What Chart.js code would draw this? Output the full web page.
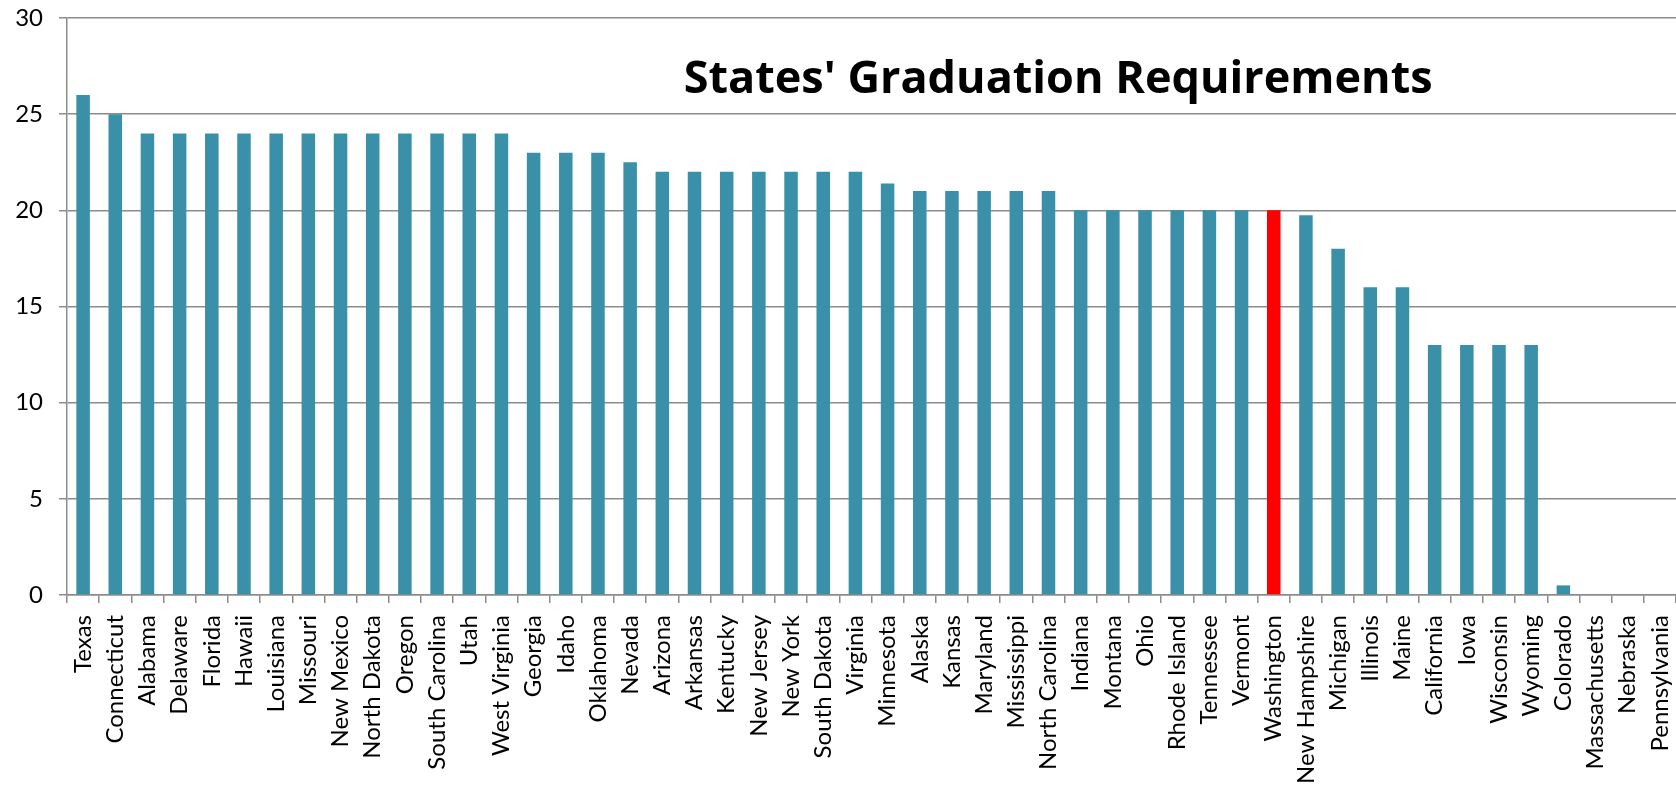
<!DOCTYPE html>
<html lang="en">
<head>
  <meta charset="UTF-8">
  <title>States' Graduation Requirements</title>
  <script src="https://cdn.jsdelivr.net/npm/chart.js"></script>
  <style>
    html, body { margin: 0; padding: 0; background: #fff; }
    #wrap { width: 1676px; height: 793px; }
  </style>
</head>
<body>
  <div id="wrap"><canvas id="gradChart"></canvas></div>

  <script>
    const states = [
      'Texas', 'Connecticut', 'Alabama', 'Delaware', 'Florida', 'Hawaii', 'Louisiana',
      'Missouri', 'New Mexico', 'North Dakota', 'Oregon', 'South Carolina', 'Utah',
      'West Virginia', 'Georgia', 'Idaho', 'Oklahoma', 'Nevada', 'Arizona', 'Arkansas',
      'Kentucky', 'New Jersey', 'New York', 'South Dakota', 'Virginia', 'Minnesota',
      'Alaska', 'Kansas', 'Maryland', 'Mississippi', 'North Carolina', 'Indiana',
      'Montana', 'Ohio', 'Rhode Island', 'Tennessee', 'Vermont', 'Washington',
      'New Hampshire', 'Michigan', 'Illinois', 'Maine', 'California', 'Iowa',
      'Wisconsin', 'Wyoming', 'Colorado', 'Massachusetts', 'Nebraska', 'Pennsylvania'
    ];
    const credits = [
      26, 25, 24, 24, 24, 24, 24,
      24, 24, 24, 24, 24, 24,
      24, 23, 23, 23, 22.5, 22, 22,
      22, 22, 22, 22, 22, 21.4,
      21, 21, 21, 21, 21, 20,
      20, 20, 20, 20, 20, 20,
      19.75, 18, 16, 16, 13, 13,
      13, 13, 0.5, 0, 0, 0
    ];
    const highlight = 'Washington';
    const yTicks = [0, 5, 10, 15, 20, 25, 30];
    const chartTitle = "States' Graduation Requirements";

    const teal = '#3A90A8';
    const gridGray = '#8C8C8C';
    const labelFont = 'Lato, "Open Sans", sans-serif';

    // title sits inside the plot area, right of centre
    const titlePlugin = {
      id: 'innerTitle',
      afterDraw(chart) {
        const { ctx, chartArea } = chart;
        ctx.save();
        ctx.font = 'bold 45px "Open Sans", sans-serif';
        ctx.fillStyle = '#000';
        ctx.textAlign = 'center';
        ctx.textBaseline = 'alphabetic';
        const cx = chartArea.left + chartArea.width * 0.616;
        ctx.fillText(chartTitle, cx, chartArea.top + 75);
        ctx.restore();
      }
    };

    const ctx = document.getElementById('gradChart').getContext('2d');
    new Chart(ctx, {
      type: 'bar',
      data: {
        labels: states,
        datasets: [{
          data: credits,
          backgroundColor: states.map(s => s === highlight ? '#FF0000' : teal),
          borderWidth: 0,
          barPercentage: 0.42,
          categoryPercentage: 1.0
        }]
      },
      options: {
        responsive: true,
        maintainAspectRatio: false,
        animation: false,
        layout: { padding: { top: 0, right: 0, left: 0, bottom: 0 } },
        plugins: {
          legend: { display: false },
          tooltip: { enabled: false }
        },
        scales: {
          x: {
            grid: {
              offset: true,
              drawOnChartArea: false,
              drawTicks: true,
              tickLength: 8,
              color: gridGray,
              lineWidth: 1.5
            },
            border: { display: true, color: gridGray, width: 1.5 },
            ticks: {
              autoSkip: false,
              minRotation: 90,
              maxRotation: 90,
              padding: 12,
              color: '#000',
              font: { family: labelFont, size: 24 }
            },
            afterFit(scale) {
              scale.height = 198;
              scale.paddingLeft = 0;
              scale.paddingRight = 0;
            }
          },
          y: {
            min: 0,
            max: 30,
            afterBuildTicks(scale) {
              scale.ticks = yTicks.map(v => ({ value: v }));
            },
            grid: {
              drawTicks: true,
              tickLength: 8,
              color: gridGray,
              lineWidth: 1.5
            },
            border: { display: true, color: gridGray, width: 1.5 },
            ticks: {
              padding: 16,
              color: '#000',
              font: { family: labelFont, size: 24 }
            },
            afterFit(scale) {
              scale.width = 67;
              scale.paddingTop = 18;
              scale.paddingBottom = 0;
            }
          }
        }
      },
      plugins: [titlePlugin]
    });
  </script>
</body>
</html>
